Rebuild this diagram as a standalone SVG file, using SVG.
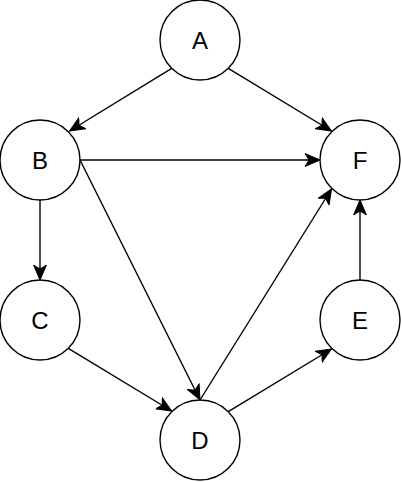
<svg xmlns="http://www.w3.org/2000/svg" width="402" height="482" viewBox="0 0 402 482">
  <style>
    .node circle { fill: #ffffff; stroke: #000000; stroke-width: 1.4; }
    .node text { font-family: "Liberation Sans", Arial, Helvetica, sans-serif; font-size: 24px; fill: #000000; text-anchor: middle; }
    .edge { fill: none; stroke: #000000; stroke-width: 1.4; marker-end: url(#arrow); }
  </style>
  <defs>
    <marker id="arrow" markerUnits="userSpaceOnUse" markerWidth="16" markerHeight="16" refX="15" refY="8" orient="auto" viewBox="0 0 16 16">
      <path d="M15,8 L0,1.5 L4,8 L0,14.5 Z" fill="#000000" stroke="#000000" stroke-width="1"/>
    </marker>
  </defs>
  <rect width="402" height="482" fill="#ffffff"/>
  <g id="connectors">
    <line class="edge" x1="171.7" y1="68.3" x2="69.5" y2="131"/>
    <line class="edge" x1="228.3" y1="68.3" x2="331.5" y2="131"/>
    <line class="edge" x1="80" y1="160" x2="320" y2="160"/>
    <line class="edge" x1="80" y1="160" x2="200" y2="400"/>
    <line class="edge" x1="40" y1="200" x2="40" y2="280"/>
    <line class="edge" x1="68.3" y1="348.3" x2="171.7" y2="411"/>
    <line class="edge" x1="200" y1="400" x2="331.5" y2="189"/>
    <line class="edge" x1="228.3" y1="411.7" x2="331.5" y2="349"/>
    <line class="edge" x1="360" y1="280" x2="360" y2="200"/>
  </g>
  <g id="node-A" class="node"><circle cx="200" cy="40" r="40"/><text x="200" y="48.5">A</text></g>
  <g id="node-B" class="node"><circle cx="40" cy="160" r="40"/><text x="40" y="168.5">B</text></g>
  <g id="node-F" class="node"><circle cx="360" cy="160" r="40"/><text x="360" y="168.5">F</text></g>
  <g id="node-C" class="node"><circle cx="40" cy="320" r="40"/><text x="40" y="328.5">C</text></g>
  <g id="node-E" class="node"><circle cx="360" cy="320" r="40"/><text x="360" y="328.5">E</text></g>
  <g id="node-D" class="node"><circle cx="200" cy="440" r="40"/><text x="200" y="448.5">D</text></g>
</svg>
